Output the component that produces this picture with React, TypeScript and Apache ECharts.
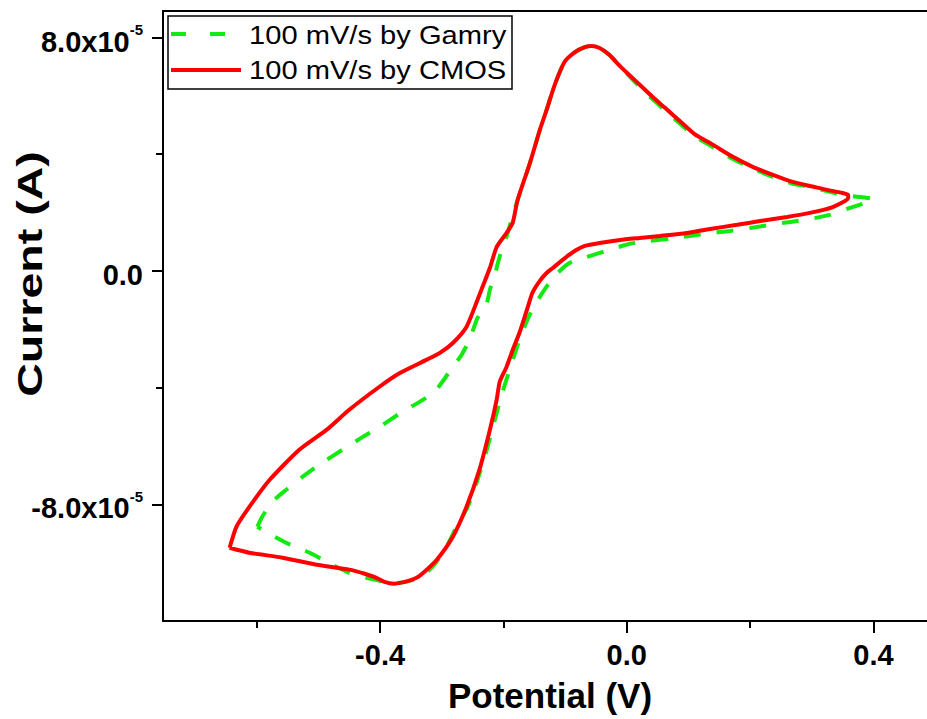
import React, { useEffect, useRef } from "react";
import * as echarts from "echarts";

// Potential (V) and current (units of 1e-5 A), traced around each cyclic voltammogram loop
const gamryPotential = [
  -0.599, -0.592, -0.584, -0.568, -0.552, -0.526, -0.506, -0.487, -0.461, -0.428, -0.401, -0.364, -0.336,
  -0.312, -0.299, -0.282, -0.268, -0.255, -0.242, -0.227, -0.222, -0.214, -0.209, -0.203, -0.195, -0.187,
  -0.177, -0.157, -0.141, -0.13, -0.117, -0.101, -0.084, -0.068, -0.057, -0.044, -0.028, -0.011, 0.013,
  0.042, 0.062, 0.086, 0.11, 0.14, 0.172, 0.205, 0.237, 0.269, 0.297, 0.329, 0.362, 0.4,
  0.39, 0.362, 0.329, 0.297, 0.265, 0.232, 0.2, 0.167, 0.135, 0.102, 0.07, 0.037, 0.005, -0.028, -0.065,
  -0.093, -0.112, -0.128, -0.144, -0.156, -0.166, -0.177, -0.19, -0.203, -0.214, -0.227, -0.242, -0.258,
  -0.276, -0.295, -0.315, -0.331, -0.347, -0.368, -0.385, -0.401, -0.422, -0.45, -0.487, -0.514, -0.552,
  -0.576, -0.599,
];
const gamryCurrent = [
  -8.77, -8.46, -8.19, -7.78, -7.5, -7.06, -6.75, -6.48, -6.13, -5.69, -5.35, -4.83, -4.49, -4.15, -3.8,
  -3.29, -2.88, -2.36, -1.61, -1.1, -0.65, -0.14, 0.27, 0.72, 1.17, 1.75, 2.43, 3.7, 4.83, 5.52, 6.37,
  7.16, 7.5, 7.67, 7.71, 7.64, 7.4, 7.02, 6.48, 5.88, 5.5, 5.05, 4.62, 4.24, 3.84, 3.5, 3.22, 2.99, 2.88,
  2.71, 2.57, 2.47,
  2.36, 2.16, 1.92, 1.78, 1.68, 1.58, 1.47, 1.37, 1.3, 1.2, 1.1, 1.03, 0.93, 0.72, 0.48, 0.27, -0.07,
  -0.48, -0.99, -1.44, -1.92, -2.54, -3.39, -4.25, -5.11, -6.13, -7.16, -8.09, -8.77, -9.56, -10.14,
  -10.45, -10.59, -10.69, -10.69, -10.62, -10.52, -10.35, -9.97, -9.66, -9.32, -9.05, -8.77,
];
const cmosPotential = [
  -0.644, -0.633, -0.612, -0.579, -0.531, -0.487, -0.45, -0.401, -0.368, -0.325, -0.303, -0.282, -0.26,
  -0.242, -0.234, -0.222, -0.211, -0.195, -0.185, -0.177, -0.157, -0.141, -0.13, -0.117, -0.101, -0.084,
  -0.068, -0.057, -0.044, -0.028, -0.011, 0.013, 0.042, 0.062, 0.086, 0.11, 0.14, 0.172, 0.205, 0.237,
  0.269, 0.297, 0.325, 0.359,
  0.359, 0.334, 0.297, 0.26, 0.216, 0.179, 0.135, 0.097, 0.054, 0.021, -0.011, -0.044, -0.068, -0.084,
  -0.104, -0.12, -0.13, -0.141, -0.153, -0.162, -0.174, -0.185, -0.195, -0.206, -0.211, -0.222, -0.239,
  -0.26, -0.282, -0.308, -0.328, -0.341, -0.36, -0.377, -0.393, -0.406, -0.425, -0.45, -0.503, -0.558,
  -0.612, -0.644,
];
const cmosCurrent = [
  -9.49, -8.77, -8.09, -7.16, -6.13, -5.45, -4.76, -3.97, -3.5, -3.05, -2.81, -2.47, -1.92, -0.99, -0.55,
  0.1, 0.82, 1.3, 1.65, 2.43, 3.7, 4.83, 5.52, 6.37, 7.16, 7.5, 7.67, 7.71, 7.64, 7.4, 7.02, 6.54, 5.96,
  5.59, 5.14, 4.69, 4.32, 3.91, 3.56, 3.29, 3.05, 2.91, 2.78, 2.6,
  2.5, 2.19, 1.99, 1.85, 1.71, 1.58, 1.44, 1.3, 1.2, 1.13, 1.06, 0.96, 0.86, 0.69, 0.38, 0.1, -0.07, -0.34,
  -0.75, -1.34, -2.12, -2.71, -3.29, -3.8, -4.42, -5.45, -6.82, -8.09, -9.11, -9.9, -10.31, -10.52,
  -10.66, -10.72, -10.66, -10.52, -10.38, -10.24, -10.07, -9.83, -9.66, -9.49,
];

const seriesNames = ["100 mV/s by Gamry", "100 mV/s by CMOS"];
const xMajorTicks = [-0.4, 0, 0.4];
const xMinorTicks = [-0.6, -0.2, 0.2];
const yMajorTicks = [-8, 0, 8];
const yMinorTicks = [-4, 4];
const xTitle = "Potential (V)";
const yTitle = "Current (A)";

const GREEN = "#12ea12";
const RED = "#ff0000";
const FONT = '"Liberation Sans", Arial, sans-serif';

function zip(a: number[], b: number[]) {
  return a.map((v, i) => [v, b[i]]);
}

export default function App() {
  const ref = useRef<HTMLDivElement>(null);
  useEffect(() => {
    if (!ref.current) return;
    const chart = echarts.init(ref.current, null, { renderer: "svg" });
    const axisLine = { show: true, onZero: false, lineStyle: { color: "#000", width: 2 } };
    const hiddenLine = { show: false, onZero: false };
    const xMin = -0.752;
    const xMax = 0.4868;
    const yMin = -12;
    const yMax = 8.91;
    chart.setOption({
      animation: false,
      backgroundColor: "#fff",
      grid: { left: 163, top: 11, right: 0, bottom: 98, containLabel: false },
      xAxis: [
        {
          type: "value",
          min: xMin,
          max: xMax,
          position: "bottom",
          axisLine,
          splitLine: { show: false },
          axisTick: { show: true, customValues: xMajorTicks, length: 12, lineStyle: { color: "#000", width: 2 } },
          axisLabel: {
            show: true,
            customValues: xMajorTicks,
            formatter: (v: number) => v.toFixed(1),
            fontFamily: FONT,
            fontWeight: "bold",
            fontSize: 29,
            color: "#000",
            margin: 19,
          },
        },
        {
          type: "value",
          min: xMin,
          max: xMax,
          position: "bottom",
          axisLine: hiddenLine,
          splitLine: { show: false },
          axisTick: { show: true, customValues: xMinorTicks, length: 7, lineStyle: { color: "#000", width: 2 } },
          axisLabel: { show: false },
        },
        {
          type: "value",
          min: xMin,
          max: xMax,
          position: "top",
          axisLine,
          splitLine: { show: false },
          axisTick: { show: false },
          axisLabel: { show: false },
        },
      ],
      yAxis: [
        {
          type: "value",
          min: yMin,
          max: yMax,
          position: "left",
          axisLine,
          splitLine: { show: false },
          axisTick: { show: true, customValues: yMajorTicks, length: 11, lineStyle: { color: "#000", width: 2 } },
          axisLabel: {
            show: true,
            customValues: yMajorTicks,
            margin: 20,
            formatter: (v: number) => (v === 0 ? "{b|0.0}" : `{b|${v.toFixed(1)}x10}{s|-5}`),
            rich: {
              b: { fontFamily: FONT, fontWeight: "bold", fontSize: 29, color: "#000", padding: [8, 0, 0, 0] },
              s: { fontFamily: FONT, fontWeight: "bold", fontSize: 15, color: "#000", padding: [0, 0, 16, 0] },
            },
          },
        },
        {
          type: "value",
          min: yMin,
          max: yMax,
          position: "left",
          axisLine: hiddenLine,
          splitLine: { show: false },
          axisTick: { show: true, customValues: yMinorTicks, length: 7, lineStyle: { color: "#000", width: 2 } },
          axisLabel: { show: false },
        },
      ],
      series: [
        {
          name: seriesNames[0],
          type: "line",
          xAxisIndex: 0,
          yAxisIndex: 0,
          data: zip(gamryPotential, gamryCurrent),
          showSymbol: false,
          smooth: 0.2,
          lineStyle: { color: GREEN, width: 4, type: [17, 16] },
          z: 2,
        },
        {
          name: seriesNames[1],
          type: "line",
          xAxisIndex: 0,
          yAxisIndex: 0,
          data: zip(cmosPotential, cmosCurrent),
          showSymbol: false,
          smooth: 0.2,
          lineStyle: { color: RED, width: 4 },
          z: 3,
        },
      ],
      graphic: [
        {
          type: "rect",
          shape: { x: 168, y: 16, width: 344, height: 73 },
          style: { fill: "#fff", stroke: "#000", lineWidth: 1.5 },
          z: 10,
        },
        {
          type: "line",
          shape: { x1: 171, y1: 34, x2: 232, y2: 34 },
          style: { stroke: GREEN, lineWidth: 4, lineDash: [15, 24] },
          z: 11,
        },
        {
          type: "line",
          shape: { x1: 171, y1: 70, x2: 241, y2: 70 },
          style: { stroke: RED, lineWidth: 4 },
          z: 11,
        },
        {
          type: "text",
          x: 249,
          y: 35,
          scaleX: 1.12,
          style: { text: seriesNames[0], font: `26px ${FONT}`, fill: "#000", textVerticalAlign: "middle" },
          z: 11,
        },
        {
          type: "text",
          x: 249,
          y: 70,
          scaleX: 1.12,
          style: { text: seriesNames[1], font: `26px ${FONT}`, fill: "#000", textVerticalAlign: "middle" },
          z: 11,
        },
        {
          type: "text",
          x: 550,
          y: 695,
          style: {
            text: xTitle,
            font: `bold 35px ${FONT}`,
            fill: "#000",
            textAlign: "center",
            textVerticalAlign: "middle",
          },
        },
        {
          type: "text",
          x: 30,
          y: 274,
          rotation: Math.PI / 2,
          scaleX: 1.33,
          style: {
            text: yTitle,
            font: `bold 35px ${FONT}`,
            fill: "#000",
            textAlign: "center",
            textVerticalAlign: "middle",
          },
        },
      ],
    });
    return () => chart.dispose();
  }, []);
  return (
    <div
      ref={ref}
      style={{ position: "fixed", left: 0, top: 0, width: 927, height: 719, background: "#fff" }}
    />
  );
}
